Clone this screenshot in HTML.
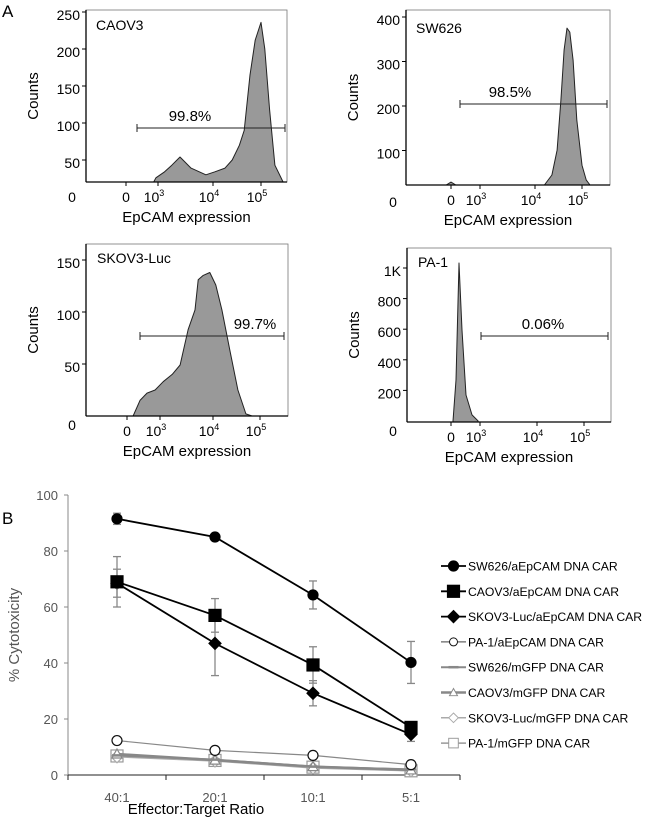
<!DOCTYPE html>
<html><head><meta charset="utf-8"><style>
body{margin:0;background:#fff;}
svg{display:block;font-family:"Liberation Sans",sans-serif;}
</style></head><body>
<svg id="fig" width="650" height="826" viewBox="0 0 650 826">
<text x="2" y="17" font-size="17">A</text>
<text x="2" y="524" font-size="17">B</text>
<g id="hists"></g>
<g id="chart"></g>
</svg>
<script>
// ---- Histogram data (decade position, counts) ----
const caovHist=[[2.6,0],[2.8,26],[3.12,34],[3.25,43],[3.4,54],[3.6,39],[3.87,30],[4.04,34],[4.25,39],[4.4,50],[4.55,70],[4.65,90],[4.77,165],[4.88,212],[5.0,236],[5.08,200],[5.18,118],[5.29,43],[5.46,20],[5.5,0]];
const swHist=[[-0.5,0],[0,29],[0.5,0],[4.2,0],[4.36,45],[4.47,101],[4.55,213],[4.62,326],[4.68,375],[4.74,366],[4.81,303],[4.89,169],[5.0,67],[5.09,34],[5.17,0]];
const skovHist=[[0.55,0],[1.18,15],[1.82,22],[2.55,25],[3.06,33],[3.23,40],[3.38,49],[3.53,83],[3.66,102],[3.72,131],[3.81,135],[3.94,138],[4.06,126],[4.19,102],[4.36,63],[4.53,25],[4.7,2],[4.83,0]];
const paHist=[[0.21,0],[0.52,268],[0.83,1033],[1.14,595],[1.55,170],[2.17,40],[2.8,0]];
const NS="http://www.w3.org/2000/svg";
function mk(tag,attrs,parent,txt){const e=document.createElementNS(NS,tag);for(const k in attrs)e.setAttribute(k,attrs[k]);if(txt!==undefined)e.textContent=txt;parent.appendChild(e);return e;}
const H=document.getElementById('hists');
const panels=[
 {name:'caov3',title:'CAOV3',box:[86,10,287,182],y0:197,yk:0.74,yt:[50,100,150,200,250],yl:['50','100','150','200','250'],xt:[[0,126],[3,158],[4,213],[5,261]],data:caovHist,gate:[137,285,128],gl:'99.8%',glx:190,zero:[72,202],tx:96,ty:30},
 {name:'sw626',title:'SW626',box:[406,10,610,185],y0:195,yk:0.445,yt:[100,200,300,400],yl:['100','200','300','400'],xt:[[0,451],[3,480],[4,535],[5,582]],data:swHist,gate:[460,607,104],gl:'98.5%',glx:510,zero:[393,207],tx:416,ty:33},
 {name:'skov3',title:'SKOV3-Luc',box:[86,244,288,416],y0:416,yk:1.04,yt:[50,100,150],yl:['50','100','150'],xt:[[0,127],[3,160],[4,213],[5,260]],data:skovHist,gate:[140,284,336],gl:'99.7%',glx:255,zero:[72,430],tx:97,ty:263},
 {name:'pa1',title:'PA-1',box:[407,248,611,422],y0:421,yk:0.153,yt:[200,400,600,800,1000],yl:['200','400','600','800','1K'],xt:[[0,451],[3,480],[4,537],[5,584]],data:paHist,gate:[481,608,336],gl:'0.06%',glx:543,zero:[393,436],tx:418,ty:267}
];
panels.forEach(p=>{
 const g=mk('g',{},H);
 
 
 const [x1,y1,x2,y2]=p.box;
 const xt=p.xt;
 const xs=d=>{for(let i=0;i<xt.length-1;i++){if(d<=xt[i+1][0]||i==xt.length-2){const a=xt[i],b=xt[i+1];return a[1]+(d-a[0])*(b[1]-a[1])/(b[0]-a[0]);}}};
 const ys=c=>Math.min(y2,p.y0-p.yk*c);
 let d='M'+xs(p.data[0][0])+','+y2;
 p.data.forEach(pt=>{d+=' L'+xs(pt[0]).toFixed(1)+','+ys(pt[1]).toFixed(1);});
 d+=' L'+xs(p.data[p.data.length-1][0])+','+y2+'Z';
 const path=mk('path',{d:d,fill:'#999',stroke:'#222','stroke-width':1,'stroke-linejoin':'round'},g);
 
 
 mk('rect',{x:x1,y:y1,width:x2-x1,height:y2-y1,fill:'none',stroke:'#777','stroke-width':0.8},g);
 mk('line',{x1:x1,y1:y1,x2:x1,y2:y2,stroke:'#000','stroke-width':1.3},g);
 mk('line',{x1:x1,y1:y2,x2:x2,y2:y2,stroke:'#000','stroke-width':1.3},g);
 p.yt.forEach((v,i)=>{const y=p.y0-p.yk*v;mk('line',{x1:x1-4,y1:y,x2:x1,y2:y,stroke:'#000'},g);mk('text',{x:x1-6,y:y+8,'font-size':14,'text-anchor':'end'},g,p.yl[i]);});
 mk('text',{x:p.zero[0],y:p.zero[1],'font-size':14,'text-anchor':'middle'},g,'0');
 xt.forEach(t=>{mk('line',{x1:t[1],y1:y2,x2:t[1],y2:y2+4,stroke:'#000'},g);
  if(t[0]==0)mk('text',{x:t[1],y:y2+20,'font-size':14,'text-anchor':'middle'},g,'0');
  else{const tx=mk('text',{x:t[1]-4,y:y2+20,'font-size':14,'text-anchor':'middle'},g,'10');mk('tspan',{dy:-6,'font-size':9},tx,String(t[0]));}});
 const yl=mk('text',{x:0,y:0,'font-size':15,'text-anchor':'middle',transform:`translate(${x1-48},${(y1+y2)/2}) rotate(-90)`},g,'Counts');
 
 const xl=mk('text',{x:(x1+x2)/2,y:y2+40,'font-size':15,'text-anchor':'middle'},g,'EpCAM expression');
 
 mk('text',{x:p.tx,y:p.ty,'font-size':14},g,p.title);
 const [gx1,gx2,gy]=p.gate;
 mk('line',{x1:gx1,y1:gy,x2:gx2,y2:gy,stroke:'#222','stroke-width':1},g);
 mk('line',{x1:gx1,y1:gy-4,x2:gx1,y2:gy+4,stroke:'#222'},g);
 mk('line',{x1:gx2,y1:gy-4,x2:gx2,y2:gy+4,stroke:'#222'},g);
 const gt=mk('text',{x:p.glx,y:gy-7,'font-size':15,'text-anchor':'middle'},g,p.gl);
 
});

// ---- Cytotoxicity chart data ----
const categories=['40:1','20:1','10:1','5:1'];
const yTicks=[0,20,40,60,80,100];
const sw626CAR=[91.5,85,64.3,40.2];
const sw626CARerr=[2,0,5,7.5];
const caov3CAR=[69,57,39.3,17];
const caov3CARerr=[9,6,6.5,2];
const skov3CAR=[68.5,47,29.2,14.5];
const skov3CARerr=[5,11.5,4.5,2.5];
const pa1CAR=[12.3,8.8,7,3.7];
const sw626GFP=[7,5.5,3,2];
const caov3GFP=[7.5,5.3,3,1.8];
const skov3GFP=[6.5,5,2.5,1.5];
const pa1GFP=[6.8,5.2,2.8,1.5];
const seriesNames=['SW626/aEpCAM DNA CAR','CAOV3/aEpCAM DNA CAR','SKOV3-Luc/aEpCAM DNA CAR','PA-1/aEpCAM DNA CAR','SW626/mGFP DNA CAR','CAOV3/mGFP DNA CAR','SKOV3-Luc/mGFP DNA CAR','PA-1/mGFP DNA CAR'];

const C=document.getElementById('chart');
const X0=68,X1=460,Y0=775,PXU=2.8;
const xS=i=>117+i*98;
const yS=v=>Y0-v*PXU;
mk('line',{x1:X0,y1:yS(100),x2:X0,y2:Y0,stroke:'#888'},C);
mk('line',{x1:X0,y1:Y0,x2:X1,y2:Y0,stroke:'#222'},C);
yTicks.forEach(v=>{mk('line',{x1:X0-4,y1:yS(v),x2:X0,y2:yS(v),stroke:'#888'},C);const t=mk('text',{x:X0-10,y:yS(v)+5,'font-size':13,fill:'#555','text-anchor':'end'},C,String(v));});
[0,1,2,3,4].forEach(i=>mk('line',{x1:X0+i*98,y1:Y0,x2:X0+i*98,y2:Y0+5,stroke:'#222'},C));
categories.forEach((c,i)=>{const t=mk('text',{x:xS(i),y:Y0+27,'font-size':13,fill:'#555','text-anchor':'middle'},C,c);});
const yt=mk('text',{x:0,y:0,'font-size':15,fill:'#555','text-anchor':'middle',transform:`translate(19,${yS(50)}) rotate(-90)`},C,'% Cytotoxicity');

const xt2=mk('text',{x:196,y:814,'font-size':15,'text-anchor':'middle'},C,'Effector:Target Ratio');


function marker(g,shape,x,y,col,fill){
 if(shape=='circle')return mk('circle',{cx:x,cy:y,r:5,fill:fill,stroke:col,'stroke-width':1.2},g);
 if(shape=='square')return mk('rect',{x:x-6,y:y-6,width:12,height:12,fill:fill,stroke:col,'stroke-width':1.2},g);
 if(shape=='diamond')return mk('path',{d:`M${x},${y-6}L${x+6},${y}L${x},${y+6}L${x-6},${y}Z`,fill:fill,stroke:col,'stroke-width':1.2},g);
 if(shape=='triangle')return mk('path',{d:`M${x},${y-5}L${x+5},${y+4}L${x-5},${y+4}Z`,fill:fill,stroke:col,'stroke-width':1.2},g);
 if(shape=='dash')return mk('line',{x1:x-5,y1:y,x2:x+5,y2:y,stroke:col,'stroke-width':2.5},g);
}
const series=[
 {v:pa1GFP,shape:'square',col:'#999',fill:'#fff',w:1.5},
 {v:skov3GFP,shape:'diamond',col:'#aaa',fill:'#fff',w:1.5},
 {v:caov3GFP,shape:'triangle',col:'#888',fill:'#fff',w:2.5},
 {v:sw626GFP,shape:'dash',col:'#888',fill:'none',w:2},
 {v:pa1CAR,shape:'circle',col:'#111',fill:'#fff',w:1.2,lc:'#888'},
 {v:skov3CAR,e:skov3CARerr,shape:'diamond',col:'#000',fill:'#000',w:1.8},
 {v:caov3CAR,e:caov3CARerr,shape:'square',col:'#000',fill:'#000',w:1.8},
 {v:sw626CAR,e:sw626CARerr,shape:'circle',col:'#000',fill:'#000',w:1.8}
];
const seriesIdx=[7,6,5,4,3,2,1,0];
series.forEach((s,k)=>{
 const g=mk('g',{},C);
 
 
 if(s.e)s.v.forEach((v,i)=>{if(!s.e[i])return;const x=xS(i);mk('line',{x1:x,y1:yS(v+s.e[i]),x2:x,y2:yS(v-s.e[i]),stroke:'#888','stroke-width':1.3},g);[v+s.e[i],v-s.e[i]].forEach(q=>mk('line',{x1:x-4,y1:yS(q),x2:x+4,y2:yS(q),stroke:'#888','stroke-width':1.3},g));});
 mk('polyline',{points:s.v.map((v,i)=>xS(i)+','+yS(v)).join(' '),fill:'none',stroke:s.lc||s.col,'stroke-width':s.w},g);
 s.v.forEach((v,i)=>{const m=marker(g,s.shape,xS(i),yS(v),s.col,s.fill);});
});
const legendStyle=[['circle','#000','#000',1.8],['square','#000','#000',1.8],['diamond','#000','#000',1.8],['circle','#111','#fff',1.2],['dash','#888','none',2],['triangle','#888','#fff',2.5],['diamond','#aaa','#fff',1.5],['square','#999','#fff',1.5]];
seriesNames.forEach((n,i)=>{
 const y=566+i*25.3;
 const g=mk('g',{},C);
 
 
 const st=legendStyle[i];
 mk('line',{x1:441,y1:y,x2:466,y2:y,stroke:i==3?'#666':st[1],'stroke-width':st[3]},g);
 const sz=marker(g,st[0],453.5,y,st[1],st[2]);
 if(st[0]!='dash'&&i>2)sz.setAttribute('transform',`translate(453.5,${y}) scale(0.8) translate(-453.5,${-y})`);
 mk('text',{x:468,y:y+4.5,'font-size':12.2},g,n);
});
</script>
</body></html>
